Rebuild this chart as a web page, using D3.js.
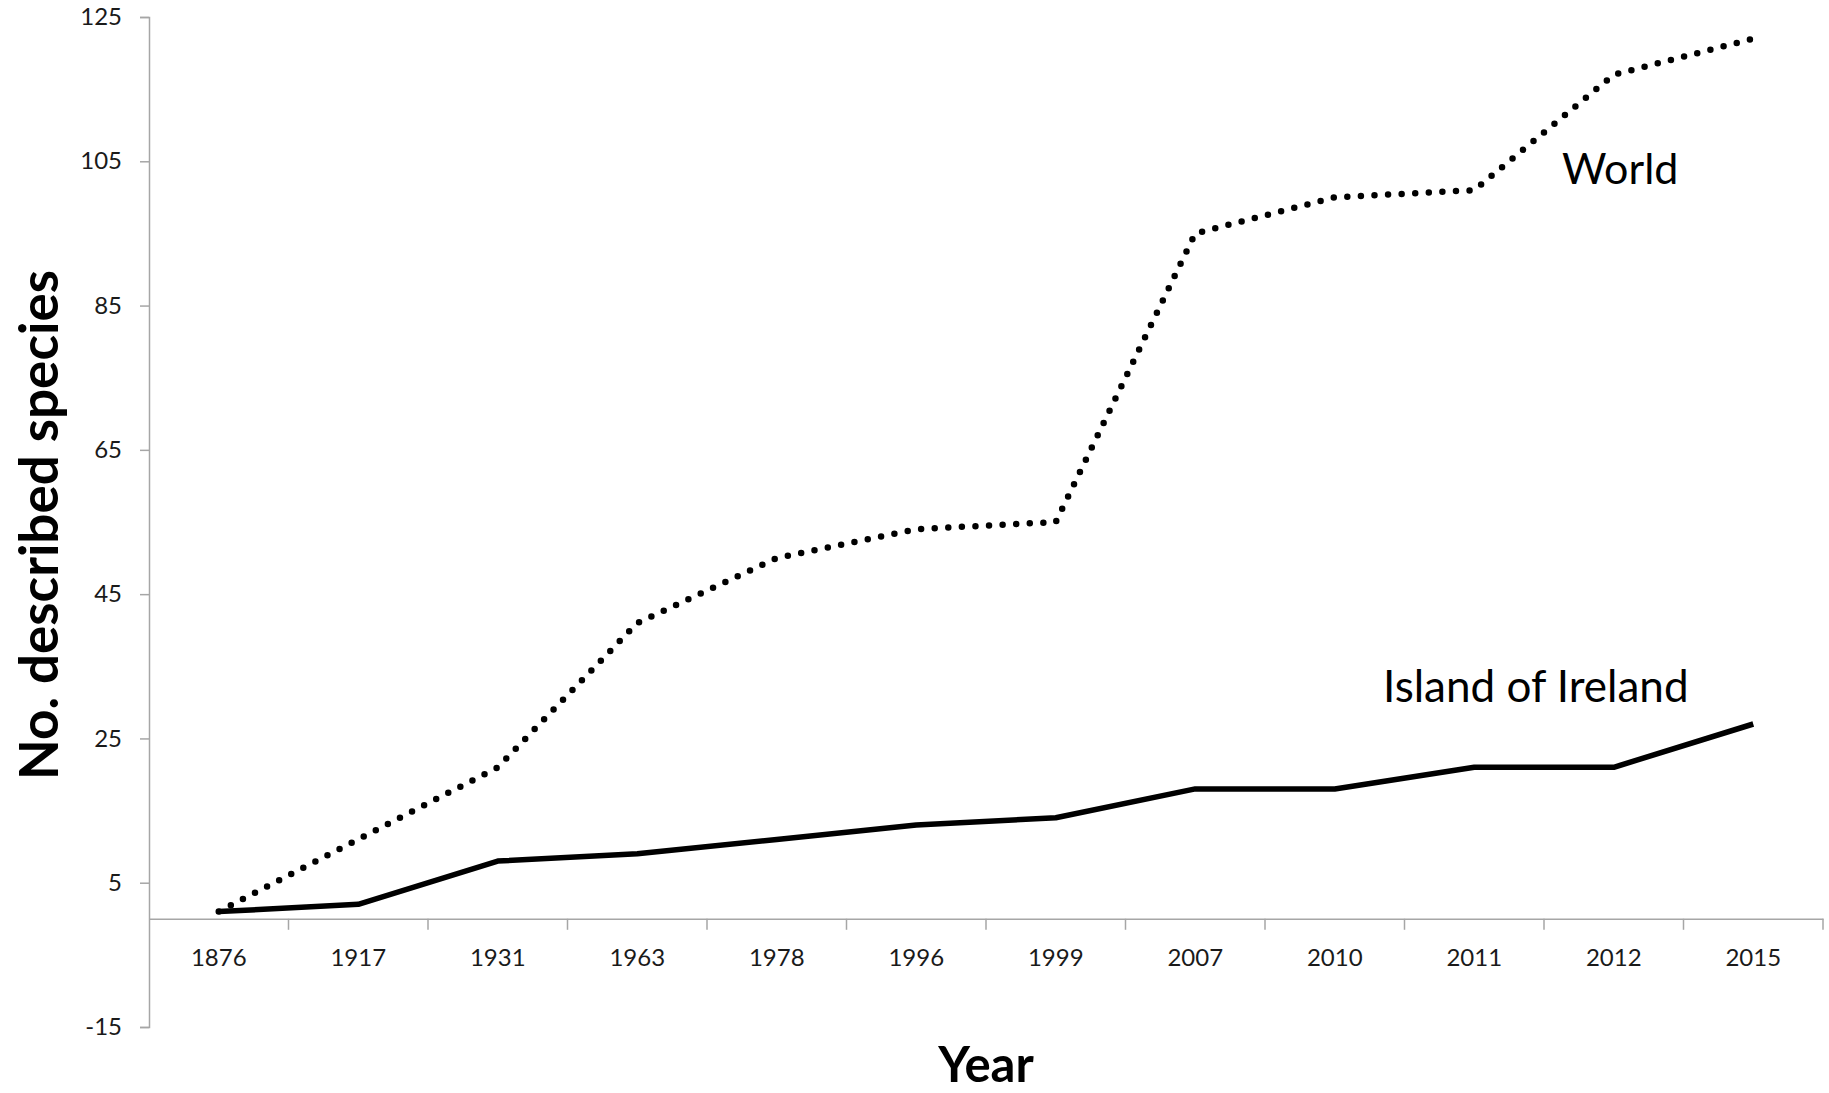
<!DOCTYPE html>
<html>
<head>
<meta charset="utf-8">
<script src="https://cdn.jsdelivr.net/npm/d3@7"></script>
<style>
  html, body { margin: 0; padding: 0; background: #fff; }
  svg { display: block; }
  text { font-family: Lato, "Open Sans", sans-serif; }
</style>
</head>
<body>
<script>
const years = ["1876","1917","1931","1963","1978","1996","1999","2007","2010","2011","2012","2015"];
const worldValues   = [1, 11, 21, 41, 50, 54, 55, 95, 100, 101, 117, 122];
const irelandValues = [1, 2, 8, 9, 11, 13, 14, 18, 18, 21, 21, 27];
const yTicks = [-15, 5, 25, 45, 65, 85, 105, 125];

const W = 1829, H = 1093;
const svg = d3.select("body").append("svg").attr("width", W).attr("height", H);

const x = d3.scaleBand().domain(years).range([149, 1823]).paddingInner(0).paddingOuter(0);
const y = d3.scaleLinear().domain([-15, 125]).range([1027, 17]);
const axisColor = "#a6a6a6";

// Y axis
const yAxis = svg.append("g").attr("transform", "translate(149,0)")
  .call(d3.axisLeft(y).tickValues(yTicks).tickSize(9).tickPadding(18).tickFormat(d => String(d)));
yAxis.select(".domain").attr("stroke", axisColor).attr("stroke-width", 1.5);
yAxis.selectAll(".tick line").attr("stroke", axisColor).attr("stroke-width", 1.5);
yAxis.selectAll(".tick text").attr("font-size", 24).attr("fill", "#1a1a1a")
  .attr("font-family", "Lato, 'Open Sans', sans-serif");

// X axis at zero
const y0 = y(0);
const xAxis = svg.append("g").attr("transform", `translate(0,${y0})`)
  .call(d3.axisBottom(x).tickSize(0).tickSizeOuter(0));
xAxis.select(".domain").attr("stroke", axisColor).attr("stroke-width", 1.5);
xAxis.selectAll(".tick text").attr("font-size", 24).attr("fill", "#1a1a1a")
  .attr("font-family", "Lato, 'Open Sans', sans-serif")
  .attr("dy", null).attr("y", 47);
// boundary ticks between categories
svg.append("g").selectAll("line")
  .data(years.slice(1).concat(["__end"]))
  .join("line")
  .attr("x1", d => d === "__end" ? x.range()[1] : x(d))
  .attr("x2", d => d === "__end" ? x.range()[1] : x(d))
  .attr("y1", y0).attr("y2", y0 + 11)
  .attr("stroke", axisColor).attr("stroke-width", 1.5);

const cx = d => x(d) + x.bandwidth() / 2;
const line = d3.line().x(d => cx(d[0])).y(d => y(d[1]));

// World (dotted)
svg.append("path")
  .datum(years.map((yr, i) => [yr, worldValues[i]]))
  .attr("d", line)
  .attr("fill", "none").attr("stroke", "#000")
  .attr("stroke-width", 6.5).attr("stroke-linecap", "round")
  .attr("stroke-dasharray", "0 13.6");

// Island of Ireland (solid)
svg.append("path")
  .datum(years.map((yr, i) => [yr, irelandValues[i]]))
  .attr("d", line)
  .attr("fill", "none").attr("stroke", "#000")
  .attr("stroke-width", 5.5).attr("stroke-linejoin", "round");

// Series labels
svg.append("text").attr("x", 1562).attr("y", 184).attr("font-size", 43).attr("fill", "#000").text("World");
svg.append("text").attr("x", 1383).attr("y", 702).attr("font-size", 44).attr("fill", "#000").text("Island of Ireland");

// Axis titles
svg.append("text").attr("x", 986).attr("y", 1082).attr("text-anchor", "middle")
  .attr("font-size", 49).attr("font-weight", "bold").attr("fill", "#000").text("Year");
svg.append("text").attr("transform", "translate(58,525) rotate(-90)").attr("text-anchor", "middle")
  .attr("font-size", 53).attr("font-weight", "bold").attr("fill", "#000").text("No. described species");
</script>
</body>
</html>
